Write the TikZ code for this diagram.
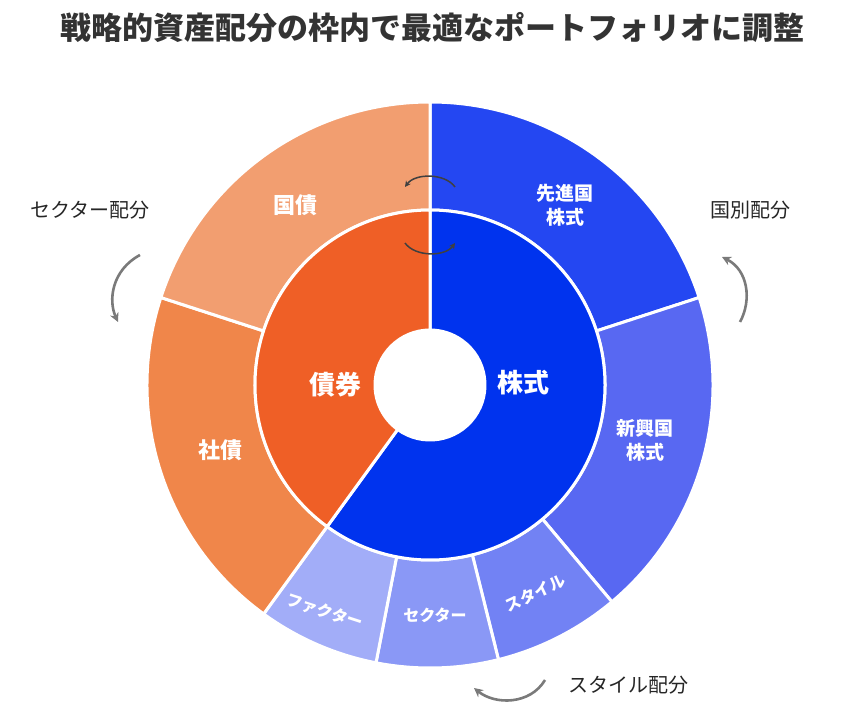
\documentclass[tikz,border=0pt]{standalone}
\usepackage{fontspec}
\setmainfont{Noto Sans CJK JP}
\usetikzlibrary{arrows.meta}
\definecolor{eqA}{HTML}{0033EE}
\definecolor{eqB}{HTML}{2447F2}
\definecolor{eqC}{HTML}{5868F2}
\definecolor{eqD}{HTML}{7282F4}
\definecolor{eqE}{HTML}{8A98F6}
\definecolor{eqF}{HTML}{A2ADF8}
\definecolor{bdA}{HTML}{EF5F26}
\definecolor{bdB}{HTML}{F0864A}
\definecolor{bdC}{HTML}{F29E70}
\definecolor{grayarrow}{HTML}{7A7A7A}
\begin{document}
\begin{tikzpicture}[x=1pt,y=1pt,
  seg/.style={draw=white,line width=3pt,line join=round},
  lab/.style={text=white,font=\fontsize{19}{24}\selectfont\bfseries,inner sep=1pt},
  sml/.style={text=white,font=\fontsize{16}{20}\selectfont\bfseries,inner sep=1pt},
  big/.style={text=white,font=\fontsize{26}{30}\selectfont\bfseries},
  side/.style={text=black!85,font=\fontsize{20}{24}\selectfont},
  garrow/.style={grayarrow,line width=2.6pt,-{Stealth[length=9pt,width=9pt]}},
  darrow/.style={black!75,line width=1.5pt,-{Stealth[length=6pt,width=6pt]}}]
\useasboundingbox (0,0) rectangle (853,720);
\node[font=\fontsize{31}{36}\selectfont\bfseries,text=black!80] (title) at (432,692) {戦略的資産配分の枠内で最適なポートフォリオに調整};
\begin{scope}[shift={(430,335)}]
\newcommand{\sector}[5]{\fill[#5] (#1:#3) arc[start angle=#1,end angle=#2,radius=#3] -- (#2:#4) arc[start angle=#2,end angle=#1,radius=#4] -- cycle;
\draw[seg] (#1:#3) arc[start angle=#1,end angle=#2,radius=#3] -- (#2:#4) arc[start angle=#2,end angle=#1,radius=#4] -- cycle;}
\sector{18}{90}{175}{283}{eqB}
\sector{-50}{18}{175}{283}{eqC}
\sector{-76}{-50}{175}{283}{eqD}
\sector{-101}{-76}{175}{283}{eqE}
\sector{-126}{-101}{175}{283}{eqF}
\sector{162}{234}{175}{283}{bdB}
\sector{90}{162}{175}{283}{bdC}
\sector{-126}{90}{55}{175}{eqA}
\sector{90}{234}{55}{175}{bdA}
\node[big] (kabu) at (93,2) {株式};
\node[big] (sai) at (-95,0) {債券};
\node[lab,align=center] (sen) at (135,180) {先進国\\株式};
\node[lab,align=center] (shin) at (215,-55) {新興国\\株式};
\node[lab,font=\fontsize{22}{26}\selectfont\bfseries] (kok) at (-135,180) {国債};
\node[lab,font=\fontsize{22}{26}\selectfont\bfseries] (sha) at (-210,-65) {社債};
\node[sml,rotate=-18] (fac) at (-105,-226) {ファクター};
\node[sml] (sec) at (5,-230) {セクター};
\node[sml,rotate=25] (sty) at (105,-208) {スタイル};
\coordinate (ia1) at (25,198); \coordinate (ia2) at (-25,198);
\draw[darrow] (ia1) .. controls (15,212) and (-15,212) .. (ia2);
\coordinate (ib1) at (-25,142); \coordinate (ib2) at (25,142);
\draw[darrow] (ib1) .. controls (-15,128) and (15,128) .. (ib2);
\end{scope}
\node[side] (lsec) at (90,510) {セクター配分};
\node[side] (lkoku) at (750,510) {国別配分};
\node[side] (lsty) at (628,35) {スタイル配分};
\coordinate (g1a) at (140,465); \coordinate (g1b) at (118,398);
\draw[garrow] (g1a) .. controls (112,450) and (108,420) .. (g1b);
\coordinate (g2a) at (740,398); \coordinate (g2b) at (722,463);
\draw[garrow] (g2a) .. controls (752,420) and (748,450) .. (g2b);
\coordinate (g3a) at (545,40); \coordinate (g3b) at (474,32);
\draw[garrow] (g3a) .. controls (530,15) and (495,15) .. (g3b);
\end{tikzpicture}
\end{document}
